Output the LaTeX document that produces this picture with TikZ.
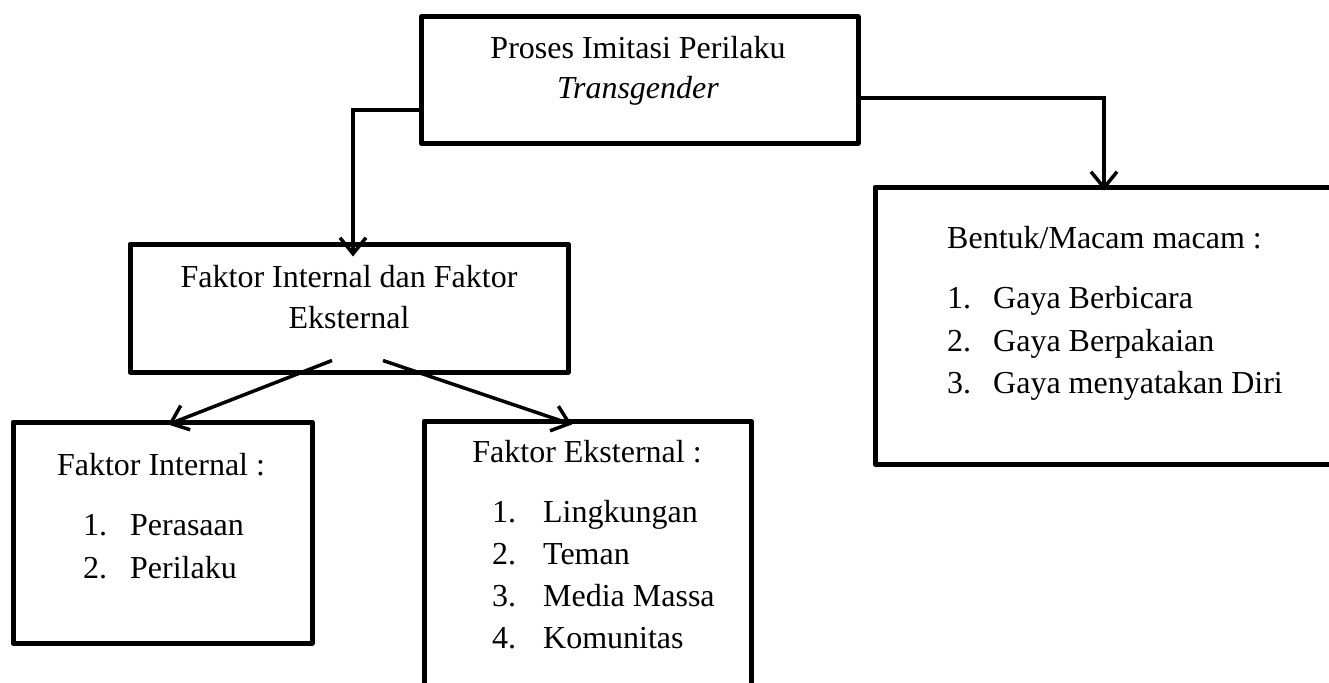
\documentclass[tikz,border=0pt]{standalone}
\usepackage{fontspec}
\setmainfont{Liberation Serif}
\usetikzlibrary{arrows.meta, positioning, calc}

\tikzset{
    box/.style={draw=black, line width=5pt, line join=round, inner sep=0pt},
    txt/.style={font=\fontsize{32}{38}\selectfont, inner sep=0pt, anchor=base},
    item/.style={txt, anchor=base west},
    arr/.style={line width=3.5pt, -{Straight Barb[length=16pt,width=26pt]}}
}

\begin{document}
\begin{tikzpicture}[x=1pt, y=-1pt]
    \useasboundingbox (0,0) rectangle (1329,682);

    % Boxes
    \node[box, minimum width=437pt, minimum height=126pt] (proses) at (639.5,80) {};
    \node[box, minimum width=438pt, minimum height=128pt] (faktor) at (349,308) {};
    \node[box, minimum width=299pt, minimum height=221pt] (internal) at (162.5,532.5) {};
    \node[box, minimum width=327pt, minimum height=300pt] (eksternal) at (587.5,571) {};
    \node[box, minimum width=458pt, minimum height=277pt] (bentuk) at (1104,325.5) {};

    % Texts
    \node[txt] (proses-1) at (638,59) {Proses Imitasi Perilaku};
    \node[txt] (proses-2) at (638,99) {\textit{Transgender}};
    \node[txt] (faktor-1) at (349,287) {Faktor Internal dan Faktor};
    \node[txt] (faktor-2) at (349,328) {Eksternal};

    \node[txt] (internal-title) at (161,475) {Faktor Internal :};
    \foreach \txt [count=\i] in {Perasaan, Perilaku}
        \node[item] (internal-\i) at (83,492+43*\i) {\makebox[47pt][l]{\i.}\txt};

    \node[txt] (eksternal-title) at (587,462) {Faktor Eksternal :};
    \foreach \txt [count=\i] in {Lingkungan, Teman, Media Massa, Komunitas}
        \node[item] (eksternal-\i) at (492,480.5+42*\i) {\makebox[51pt][l]{\i.}\txt};

    \node[item] (bentuk-title) at (947,248) {Bentuk/Macam macam :};
    \foreach \txt [count=\i] in {Gaya Berbicara, Gaya Berpakaian, Gaya menyatakan Diri}
        \node[item] (bentuk-\i) at (947,266+42.5*\i) {\makebox[46pt][l]{\i.}\txt};

    % Connectors
    \draw[arr, shorten >=-15pt] ($(proses.west)+(0,30)$) -| ([xshift=4pt]faktor.north);
    \draw[arr, shorten >=-6pt] ($(proses.east)+(0,18)$) -| (bentuk.north);
    \draw[arr] ($(faktor.south)+(-17,-14)$) -- ($(internal.north)+(5.5,5)$);
    \draw[arr] ($(faktor.south)+(34,-14)$) -- ($(eksternal.north)+(-15.5,6)$);
\end{tikzpicture}
\end{document}
